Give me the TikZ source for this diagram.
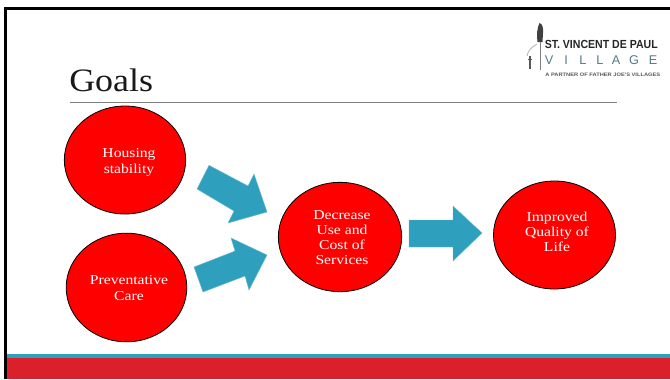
\documentclass[tikz,border=0pt]{standalone}
\usepackage{fontspec}
\usetikzlibrary{shapes.geometric}
\setmainfont{Liberation Serif}
\newfontfamily\logofont{Liberation Sans}
\begin{document}
\begin{tikzpicture}[x=0.75pt,y=-0.75pt,
 goal/.style={ellipse,draw=black,line width=0.6pt,fill=red,inner sep=0pt},
 goaltext/.style={text=white,align=center,inner sep=0pt,xscale=1.15},
 flow/.style={fill=arrowblue,draw=arrowblue!70!white,line width=0.3pt}]
\definecolor{arrowblue}{HTML}{2E9FBD}
\definecolor{bandred}{HTML}{DA212B}
\useasboundingbox (0,0) rectangle (670,379);
\fill[white] (0,0) rectangle (670,379);
% frame
\fill[black] (4,7) rectangle (670,9.5);
\fill[black] (4,7) rectangle (6.8,379);
% bands
\fill[arrowblue] (6.8,354) rectangle (670,358);
\fill[bandred] (6.8,358) rectangle (670,379);
% title
\node[anchor=base west,inner sep=0pt,xscale=1.1,font=\fontsize{24.5pt}{28pt}\selectfont,text=black!90] (title) at (69,91) {Goals};
\coordinate (ruleA) at (70,102.5);
\coordinate (ruleB) at (617,102.5);
\draw[gray,line width=0.6pt] (ruleA) -- (ruleB);
% circles
\node[goal,minimum width=91pt,minimum height=81pt] (housing) at (125,160) {};
\node[goal,minimum width=90.5pt,minimum height=81.5pt] (care) at (126.5,287.5) {};
\node[goal,minimum width=92.5pt,minimum height=82pt] (decrease) at (340,237) {};
\node[goal,minimum width=91.5pt,minimum height=81pt] (quality) at (554.5,235) {};
\node[goaltext,font=\fontsize{10.2pt}{12pt}\selectfont] (housingt) at (129,162) {Housing\\stability};
\node[goaltext,font=\fontsize{10.2pt}{12pt}\selectfont] (caret) at (129,288) {Preventative\\Care};
\node[goaltext,font=\fontsize{10.2pt}{11.2pt}\selectfont] (decreaset) at (342,238) {Decrease\\Use and\\Cost of\\Services};
\node[goaltext,font=\fontsize{10.2pt}{11.2pt}\selectfont] (qualityt) at (557,232) {Improved\\Quality of\\Life};
% arrows
\draw[flow] (209,165.3) -- (248,186) -- (254,174) -- (267,212) -- (228,223) -- (234,211) -- (197,189) -- cycle;
\draw[flow] (194,267) -- (235,251) -- (231,238) -- (267,255) -- (249,290) -- (245,276) -- (203,292) -- cycle;
\draw[flow] (409,220) -- (453,220) -- (453,206) -- (482,233) -- (453,261) -- (453,247) -- (409,247) -- cycle;
% logo
\fill[black!75] (539.5,23) .. controls (542.5,24) and (543.5,28) .. (543,33) -- (542.5,42) -- (537.5,42) .. controls (536.5,35) and (537,28) .. (539.5,23) -- cycle;
\draw[black!50,line width=0.6pt] (540,42) -- (540,70);
\draw[black!30,line width=0.6pt] (537,44) .. controls (532,47) and (528,50) .. (527,56);
\draw[black!65,line width=0.8pt] (530,56) -- (530,69) (528,59.5) -- (532,59.5);
\node[anchor=base west,inner sep=0pt,font=\logofont\bfseries\fontsize{8.8pt}{9pt}\selectfont,text=black!85,xscale=0.9] (logoA) at (544.5,48.5) {ST. VINCENT DE PAUL};
\foreach \ch/\xp in {V/549,I/566,L/583,L/600,A/616,G/634,E/653}
  \node[inner sep=0pt,font=\logofont\fontsize{9.5pt}{10pt}\selectfont,text=arrowblue!50!black!75] at (\xp,60) {\ch};
\node[anchor=base west,inner sep=0pt,font=\logofont\bfseries\fontsize{3.7pt}{4pt}\selectfont,text=black!65,xscale=1.16] (logoB) at (545,76) {A PARTNER OF FATHER JOE'S VILLAGES};
\end{tikzpicture}
\end{document}
